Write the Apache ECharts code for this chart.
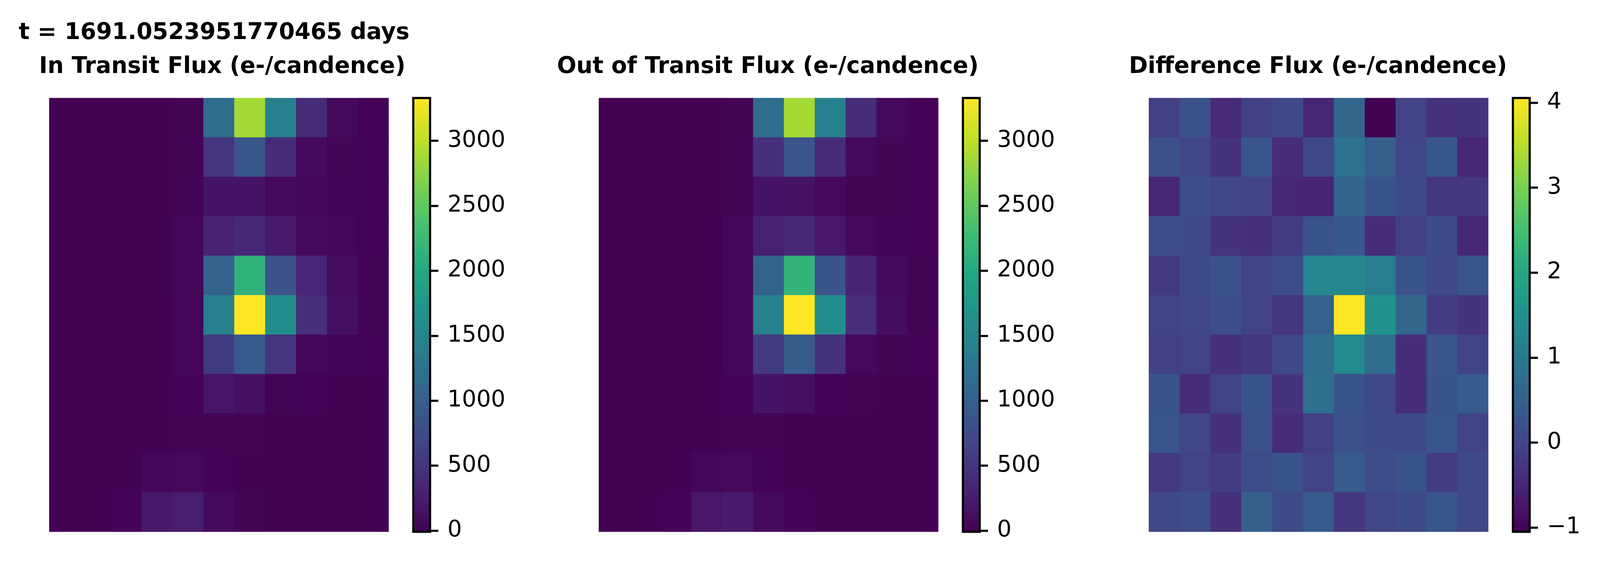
<!DOCTYPE html>
<html><head><meta charset="utf-8">
<style>html,body{margin:0;padding:0;background:#fff;overflow:hidden}#c{width:100vw;height:100vh}</style>
<script src="https://cdn.jsdelivr.net/npm/echarts@6/dist/echarts.min.js"></script>
</head><body><div id="c"></div>
<script>
const columns = ['0','1','2','3','4','5','6','7','8','9','10'];
const rows = ['0','1','2','3','4','5','6','7','8','9','10'];
const inTransitFlux = [
 [3,3,3,3,15,1180,2870,1420,400,70,10],
 [3,3,3,3,15,500,880,400,80,25,10],
 [3,3,3,3,15,170,170,70,50,20,8],
 [3,3,3,3,50,300,370,230,70,40,10],
 [3,3,3,3,50,1050,2150,830,340,90,15],
 [3,3,3,3,40,1430,3329,1620,440,130,15],
 [3,3,3,3,40,560,930,500,50,20,8],
 [3,3,3,5,10,180,130,15,8,5,3],
 [3,3,3,5,6,6,6,5,5,4,3],
 [3,3,3,50,60,8,5,4,4,3,3],
 [3,3,10,220,260,80,15,5,4,3,3]
];
const outOfTransitFlux = [
 [3,3,3,3,15,1180,2880,1430,400,70,10],
 [3,3,3,3,15,440,870,400,70,25,10],
 [3,3,3,3,15,170,150,60,25,15,8],
 [3,3,3,3,40,290,370,210,60,20,10],
 [3,3,3,3,40,1050,2170,850,330,80,15],
 [3,3,3,3,40,1430,3329,1620,430,110,15],
 [3,3,3,3,40,560,950,470,60,15,8],
 [3,3,3,5,10,170,120,10,6,5,3],
 [3,3,3,5,6,6,5,5,5,4,3],
 [3,3,3,50,60,8,5,4,4,3,3],
 [3,3,10,200,250,80,10,5,4,3,3]
];
const differenceFlux = [
 [-0.1,0.2,-0.45,-0.1,0.05,-0.5,0.65,-1.05,-0.05,-0.33,-0.3],
 [0.2,0.0,-0.3,0.3,-0.4,0.05,0.85,0.5,0.0,0.35,-0.5],
 [-0.5,0.15,0.0,-0.05,-0.5,-0.55,0.6,0.25,0.1,-0.25,-0.25],
 [0.15,0.1,-0.3,-0.35,-0.15,0.25,0.35,-0.4,-0.1,0.1,-0.5],
 [-0.2,0.1,0.2,-0.05,0.15,1.3,1.3,1.1,0.25,0.05,0.3],
 [-0.05,0.0,0.15,-0.05,-0.25,0.55,4.05,1.55,0.65,-0.15,-0.3],
 [-0.1,-0.05,-0.35,-0.25,0.05,0.75,1.35,0.75,-0.4,0.3,-0.05],
 [0.25,-0.4,-0.05,0.25,-0.3,0.8,0.25,0.05,-0.4,0.25,0.4],
 [0.3,0,-0.35,0.2,-0.4,-0.1,0.2,0.1,0.1,0.3,-0.05],
 [-0.2,-0.05,-0.15,0.15,0.25,-0.05,0.4,0.15,0.25,-0.15,0.05],
 [0.05,0.15,-0.35,0.5,0.1,0.4,-0.25,0,0.1,0.3,0.05]
];
const fluxTicks = [0,500,1000,1500,2000,2500,3000];
const diffTicks = [-1,0,1,2,3,4];
const fluxRange = [-9,3329];
const diffRange = [-1.05,4.055];
const viridis = ['#440154','#482475','#414487','#355f8d','#2a788e','#21918c','#22a884','#44bf70','#7ad151','#bddf26','#fde725'];
const FONT = '"DejaVu Sans"';
const REF_W = 5239, REF_H = 1465;
const sx = window.innerWidth / REF_W, sy = window.innerHeight / REF_H;
const X = v => Math.round(v * sx), Y = v => Math.round(v * sy);
const fontPx = 74.5 * sx;
const lineW = 7 * sx;
const cellW = Math.round(1112 * sx / 11), cellH = Math.round(1112 * sy / 11);
const W = cellW * 11, H = cellH * 11;
const TOP = Y(251);
const panels = [
 {left:161, values:inTransitFlux, range:fluxRange, ticks:fluxTicks},
 {left:1961, values:outOfTransitFlux, range:fluxRange, ticks:fluxTicks},
 {left:3762, values:differenceFlux, range:diffRange, ticks:diffTicks}
];
const titles = [
 {text:'t = 1691.0523951770465 days', left:61, cy:90},
 {text:'In Transit Flux (e-/candence)', left:128, cy:177},
 {text:'Out of Transit Flux (e-/candence)', left:1824, cy:177},
 {text:'Difference Flux (e-/candence)', left:3696, cy:177}
];
const grid=[],xAxis=[],yAxis=[],series=[],visualMap=[];
panels.forEach((p,i)=>{
  const L = X(p.left), barL = L + W + X(81), barW = X(55);
  grid.push({left:L,top:TOP,width:W,height:H,z:1});
  xAxis.push({type:'category',gridIndex:2*i,data:columns,show:false});
  yAxis.push({type:'category',gridIndex:2*i,data:rows,inverse:true,show:false});
  const data=[];
  p.values.forEach((r,y)=>r.forEach((v,x)=>data.push([x,y,v])));
  series.push({type:'heatmap',xAxisIndex:2*i,yAxisIndex:2*i,data,progressive:0,silent:true,itemStyle:{borderWidth:0}});
  visualMap.push({type:'continuous',seriesIndex:i,min:p.range[0],max:p.range[1],calculable:false,
    left:barL,top:TOP,itemWidth:barW,itemHeight:H,padding:0,text:null,z:0,
    inRange:{color:viridis},hoverLink:false});
  grid.push({left:barL,top:TOP,width:barW,height:H,show:true,backgroundColor:'transparent',borderColor:'#000',borderWidth:lineW,z:5});
  xAxis.push({type:'value',gridIndex:2*i+1,show:false,min:0,max:1});
  yAxis.push({type:'value',gridIndex:2*i+1,position:'right',min:p.range[0],max:p.range[1],z:6,
    splitLine:{show:false},
    axisLine:{show:false,onZero:false},
    axisTick:{show:true,length:27*sx,lineStyle:{color:'#000',width:lineW},customValues:p.ticks},
    axisLabel:{show:true,margin:57*sx,color:'#000',fontFamily:FONT,fontSize:fontPx,customValues:p.ticks,
      formatter:v=>String(v).replace('-','\u2212')}});
});
const chart=echarts.init(document.getElementById('c'),null,{renderer:'canvas',devicePixelRatio:1});
chart.setOption({
  animation:false,backgroundColor:'#fff',
  title:titles.map(t=>({text:t.text,left:X(t.left),top:Y(t.cy)-fontPx*0.58,padding:0,textStyle:{fontFamily:FONT,fontWeight:'bold',fontSize:fontPx,color:'#000'}})),
  grid,xAxis,yAxis,visualMap,series
});
</script></body></html>
